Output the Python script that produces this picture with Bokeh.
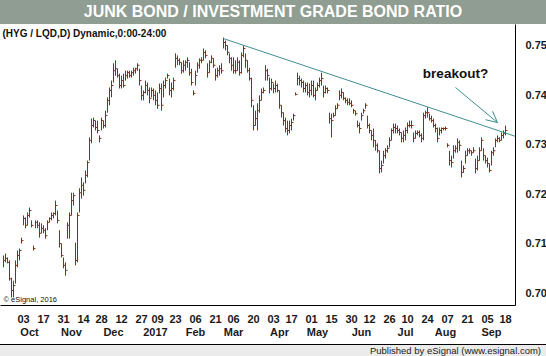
import pandas as pd
from bokeh.plotting import figure
from bokeh.models import (Range1d, LinearAxis, FixedTicker, Label, Arrow, OpenHead,
                          Div, ColumnDataSource, NumeralTickFormatter)
from bokeh.layouts import column
from bokeh.embed import file_html
from bokeh.resources import INLINE

# ---------------- data ----------------
title_text = "JUNK BOND / INVESTMENT GRADE BOND RATIO"
symbol_text = "(HYG / LQD,D) Dynamic,0:00-24:00"
copyright_text = "\u00a9 eSignal, 2016"
note_text = "breakout?"
footer_text = "Published by eSignal (www.esignal.com)"

start_date = "2016-09-19"
end_date = "2017-09-18"
market_holidays = ["2016-11-24", "2016-12-26", "2017-01-02", "2017-01-16", "2017-02-20",
                   "2017-04-14", "2017-05-29", "2017-07-04", "2017-09-04"]

high = [
    .7075, .7079, .7071, .7065, .7030, .7024, .7065, .7085, .7089, .7111,
    .7156, .7152, .7162, .7172, .7146, .7095, .7146, .7146, .7142, .7140,
    .7136, .7130, .7146, .7152, .7162, .7162, .7186, .7166, .7126, .7099,
    .7071, .7061, .7142, .7162, .7202, .7202, .7101, .7162, .7211, .7233,
    .7223, .7247, .7267, .7314, .7352, .7354, .7348, .7348, .7318, .7354,
    .7348, .7368, .7395, .7415, .7429, .7464, .7470, .7453, .7443, .7439,
    .7443, .7449, .7449, .7449, .7449, .7455, .7455, .7464, .7453, .7419,
    .7409, .7429, .7425, .7415, .7415, .7413, .7409, .7405, .7423, .7423,
    .7429, .7435, .7443, .7433, .7425, .7435, .7484, .7480, .7474, .7466,
    .7470, .7470, .7476, .7466, .7453, .7409, .7449, .7466, .7474, .7476,
    .7494, .7490, .7464, .7470, .7480, .7474, .7453, .7455, .7460, .7464,
    .7516, .7510, .7500, .7484, .7476, .7476, .7470, .7476, .7470, .7486,
    .7500, .7484, .7470, .7455, .7435, .7379, .7368, .7383, .7399, .7413,
    .7415, .7460, .7453, .7435, .7433, .7423, .7429, .7423, .7409, .7379,
    .7364, .7354, .7348, .7348, .7352, .7362, .7405, .7445, .7439, .7433,
    .7429, .7425, .7425, .7423, .7429, .7429, .7415, .7425, .7435, .7445,
    .7419, .7419, .7415, .7364, .7362, .7364, .7379, .7383, .7409, .7413,
    .7405, .7395, .7393, .7393, .7389, .7372, .7368, .7348, .7344, .7364,
    .7372, .7383, .7358, .7342, .7328, .7332, .7308, .7302, .7287, .7267,
    .7287, .7292, .7298, .7314, .7332, .7342, .7342, .7338, .7332, .7324,
    .7328, .7334, .7344, .7348, .7348, .7324, .7328, .7328, .7328, .7322,
    .7364, .7368, .7375, .7362, .7358, .7352, .7342, .7334, .7334, .7334,
    .7334, .7336, .7302, .7287, .7277, .7298, .7298, .7312, .7308, .7267,
    .7257, .7287, .7292, .7292, .7287, .7294, .7271, .7277, .7294, .7314,
    .7292, .7277, .7273, .7261, .7287, .7294, .7312, .7318, .7314, .7324,
    .7328, .7338,
]
low = [
    .7051, .7061, .7059, .7024, .6990, .6990, .7018, .7051, .7065, .7099,
    .7136, .7130, .7136, .7152, .7132, .7085, .7130, .7130, .7111, .7120,
    .7120, .7109, .7126, .7142, .7146, .7150, .7156, .7140, .7091, .7071,
    .7049, .7034, .7109, .7109, .7156, .7176, .7055, .7061, .7162, .7190,
    .7196, .7221, .7233, .7267, .7302, .7334, .7328, .7322, .7304, .7328,
    .7332, .7334, .7364, .7379, .7395, .7425, .7439, .7435, .7413, .7413,
    .7415, .7429, .7433, .7435, .7435, .7439, .7443, .7449, .7419, .7389,
    .7389, .7403, .7399, .7383, .7395, .7389, .7379, .7372, .7403, .7368,
    .7395, .7413, .7433, .7399, .7395, .7409, .7455, .7460, .7460, .7443,
    .7445, .7449, .7455, .7439, .7419, .7399, .7419, .7445, .7453, .7464,
    .7470, .7474, .7435, .7445, .7464, .7455, .7429, .7435, .7439, .7443,
    .7494, .7490, .7480, .7464, .7449, .7443, .7443, .7449, .7439, .7443,
    .7476, .7455, .7445, .7429, .7375, .7328, .7338, .7328, .7364, .7389,
    .7403, .7429, .7429, .7403, .7409, .7403, .7405, .7405, .7372, .7354,
    .7338, .7324, .7318, .7322, .7328, .7348, .7399, .7419, .7419, .7415,
    .7405, .7405, .7399, .7395, .7399, .7395, .7389, .7409, .7415, .7419,
    .7395, .7403, .7403, .7342, .7314, .7354, .7358, .7372, .7389, .7393,
    .7389, .7383, .7379, .7379, .7375, .7362, .7358, .7334, .7322, .7348,
    .7362, .7372, .7332, .7322, .7308, .7294, .7287, .7283, .7241, .7243,
    .7261, .7271, .7283, .7294, .7308, .7322, .7322, .7322, .7318, .7304,
    .7304, .7308, .7322, .7334, .7332, .7304, .7312, .7318, .7314, .7304,
    .7308, .7352, .7354, .7348, .7344, .7334, .7324, .7304, .7318, .7322,
    .7328, .7328, .7294, .7257, .7253, .7271, .7283, .7283, .7287, .7233,
    .7243, .7261, .7277, .7281, .7277, .7283, .7241, .7247, .7267, .7287,
    .7267, .7261, .7253, .7243, .7257, .7277, .7294, .7304, .7304, .7308,
    .7312, .7318,
]
close = [
    .7065, .7069, .7061, .7028, .7004, .7014, .7055, .7075, .7085, .7105,
    .7150, .7136, .7156, .7166, .7136, .7089, .7142, .7136, .7120, .7130,
    .7126, .7115, .7142, .7150, .7156, .7160, .7176, .7146, .7099, .7075,
    .7055, .7045, .7136, .7156, .7186, .7196, .7065, .7156, .7202, .7217,
    .7207, .7237, .7263, .7308, .7338, .7348, .7334, .7328, .7312, .7348,
    .7338, .7358, .7389, .7409, .7419, .7449, .7453, .7439, .7419, .7429,
    .7419, .7439, .7445, .7439, .7445, .7449, .7453, .7460, .7429, .7399,
    .7405, .7419, .7409, .7393, .7409, .7399, .7389, .7379, .7413, .7379,
    .7419, .7429, .7439, .7409, .7413, .7429, .7474, .7470, .7466, .7449,
    .7460, .7466, .7470, .7445, .7425, .7403, .7439, .7460, .7470, .7470,
    .7486, .7480, .7445, .7466, .7474, .7460, .7439, .7449, .7453, .7449,
    .7506, .7500, .7486, .7474, .7460, .7449, .7449, .7466, .7445, .7480,
    .7494, .7470, .7449, .7433, .7389, .7338, .7352, .7368, .7389, .7405,
    .7409, .7449, .7439, .7413, .7425, .7413, .7419, .7409, .7379, .7364,
    .7348, .7332, .7328, .7338, .7344, .7358, .7401, .7433, .7429, .7425,
    .7413, .7419, .7405, .7409, .7419, .7399, .7409, .7419, .7429, .7433,
    .7405, .7413, .7409, .7352, .7348, .7358, .7372, .7379, .7399, .7405,
    .7393, .7389, .7385, .7383, .7379, .7368, .7362, .7338, .7332, .7358,
    .7368, .7379, .7338, .7328, .7318, .7308, .7298, .7287, .7251, .7257,
    .7277, .7287, .7292, .7308, .7328, .7334, .7332, .7328, .7324, .7312,
    .7318, .7328, .7338, .7338, .7338, .7312, .7322, .7324, .7318, .7312,
    .7358, .7364, .7364, .7352, .7348, .7338, .7332, .7312, .7328, .7332,
    .7332, .7332, .7298, .7267, .7263, .7287, .7292, .7304, .7298, .7243,
    .7251, .7277, .7287, .7287, .7283, .7287, .7251, .7267, .7287, .7308,
    .7277, .7267, .7261, .7247, .7283, .7287, .7308, .7312, .7308, .7318,
    .7322, .7328,
]

day_tick_dates = ["2016-10-03", "2016-10-17", "2016-10-31", "2016-11-14", "2016-11-28",
                  "2016-12-12", "2016-12-27", "2017-01-09", "2017-01-23", "2017-02-06",
                  "2017-02-21", "2017-03-06", "2017-03-20", "2017-04-03", "2017-04-17",
                  "2017-05-01", "2017-05-15", "2017-05-30", "2017-06-12", "2017-06-26",
                  "2017-07-10", "2017-07-24", "2017-08-07", "2017-08-21", "2017-09-05",
                  "2017-09-18"]
month_keys = ["2016-10", "2016-11", "2016-12", "2017-01", "2017-02", "2017-03",
              "2017-04", "2017-05", "2017-06", "2017-07", "2017-08", "2017-09"]
month_labels = ["Oct", "Nov", "Dec", "2017", "Feb", "Mar", "Apr", "May", "Jun", "Jul",
                "Aug", "Sep"]
y_ticks = [0.70, 0.71, 0.72, 0.73, 0.74, 0.75]

# trend line drawn by the chart author (trading-day index, ratio value)
trend_idx = [110, 256]
trend_val = [0.7514, 0.7316]
# annotation arrow (trading-day index, ratio value)
arrow_idx = [226, 247]
arrow_val = [0.7415, 0.7344]

# ---------------- styling ----------------
BAR = "#862f10"
TEAL = "#3f8f8c"
TXT = "#1a1a1a"
FONT = "Liberation Sans"

dates = [d for d in pd.bdate_range(start_date, end_date)
         if d.strftime("%Y-%m-%d") not in market_holidays]
n = min(len(dates), len(high))
dates = dates[:n]
date_pos = {d.strftime("%Y-%m-%d"): i for i, d in enumerate(dates)}

xs = list(range(n))
src = ColumnDataSource(dict(x=xs, xt1=[x + 1.0 for x in xs],
                            high=high[:n], low=low[:n], close=close[:n]))

p = figure(frame_width=515, frame_height=281,
           x_range=Range1d(-1.5, 256), y_range=Range1d(0.69737, 0.75425),
           output_backend="svg", toolbar_location=None, y_axis_location="right",
           min_border_left=0, min_border_right=31, min_border_top=0, min_border_bottom=37,
           margin=0)
p.outline_line_color = None
p.grid.visible = False
p.background_fill_color = "white"
p.border_fill_color = "white"

p.segment(x0="x", y0="low", x1="x", y1="high", source=src, line_color=BAR, line_width=1)
p.segment(x0="x", y0="close", x1="xt1", y1="close", source=src, line_color=BAR, line_width=1)

p.line(trend_idx, trend_val, line_color=TEAL, line_width=1)
p.add_layout(Arrow(end=OpenHead(size=11, line_color=TEAL, line_width=1),
                   x_start=arrow_idx[0], y_start=arrow_val[0],
                   x_end=arrow_idx[1], y_end=arrow_val[1],
                   line_color=TEAL, line_width=1))

# right value axis
ya = p.yaxis[0]
ya.ticker = FixedTicker(ticks=y_ticks)
ya.formatter = NumeralTickFormatter(format="0.00")
ya.axis_line_color = "black"
ya.major_tick_line_color = None
ya.minor_tick_line_color = None
ya.major_label_standoff = 4
ya.major_label_text_font = FONT
ya.major_label_text_font_style = "bold"
ya.major_label_text_font_size = "11px"
ya.major_label_text_color = TXT

# day axis
day_ticks = [date_pos[d] for d in day_tick_dates]
xa = p.xaxis[0]
xa.ticker = FixedTicker(ticks=day_ticks)
xa.major_label_overrides = {t: d[-2:] for t, d in zip(day_ticks, day_tick_dates)}
xa.axis_line_color = "black"
xa.major_tick_line_color = None
xa.minor_tick_line_color = None
xa.major_label_standoff = 3
xa.major_label_text_font = FONT
xa.major_label_text_font_style = "bold"
xa.major_label_text_font_size = "11px"
xa.major_label_text_color = TXT

# month axis
month_first = {}
for i, d in enumerate(dates):
    k = d.strftime("%Y-%m")
    if k not in month_first:
        month_first[k] = i
month_ticks = [month_first[k] + 3 for k in month_keys]
ma = LinearAxis(ticker=FixedTicker(ticks=month_ticks),
                major_label_overrides={t: m for t, m in zip(month_ticks, month_labels)})
ma.axis_line_color = None
ma.major_tick_line_color = None
ma.minor_tick_line_color = None
ma.major_label_standoff = -6
ma.major_label_text_font = FONT
ma.major_label_text_font_style = "bold"
ma.major_label_text_font_size = "11px"
ma.major_label_text_color = TXT
p.add_layout(ma, "below")

p.add_layout(Label(x=2, y=272, x_units="screen", y_units="screen", text=symbol_text,
                   text_font=FONT, text_font_style="bold", text_font_size="10px",
                   text_baseline="middle", text_color="#111111"))
p.add_layout(Label(x=3, y=2, x_units="screen", y_units="screen", text=copyright_text,
                   text_font=FONT, text_font_size="7.5px", text_baseline="bottom",
                   text_color="#111111"))
p.add_layout(Label(x=455, y=232, x_units="screen", y_units="screen", text=note_text,
                   text_font=FONT, text_font_style="bold", text_font_size="13.5px",
                   text_align="center", text_baseline="middle", text_color="#111111"))

title_div = Div(text=(
    '<div style="width:546px;height:24px;line-height:24px;background:#8f9d92;color:#ffffff;'
    "font-family:'Liberation Sans',Arial,sans-serif;font-weight:bold;font-size:16px;"
    'text-align:center;white-space:nowrap;">' + title_text + '</div>'),
    width=546, height=24, margin=0)
footer_div = Div(text=(
    '<div style="box-sizing:border-box;width:546px;height:14px;line-height:12px;'
    'border-top:1px solid #000;background:#ebebeb;color:#222;'
    "font-family:'Liberation Sans',Arial,sans-serif;font-size:9.5px;"
    'text-align:right;padding-right:5px;white-space:nowrap;">' + footer_text + '</div>'),
    width=546, height=14, margin=0)

layout = column(title_div, p, footer_div, spacing=0, margin=0)
open("out.html", "w").write(file_html(layout, INLINE))
